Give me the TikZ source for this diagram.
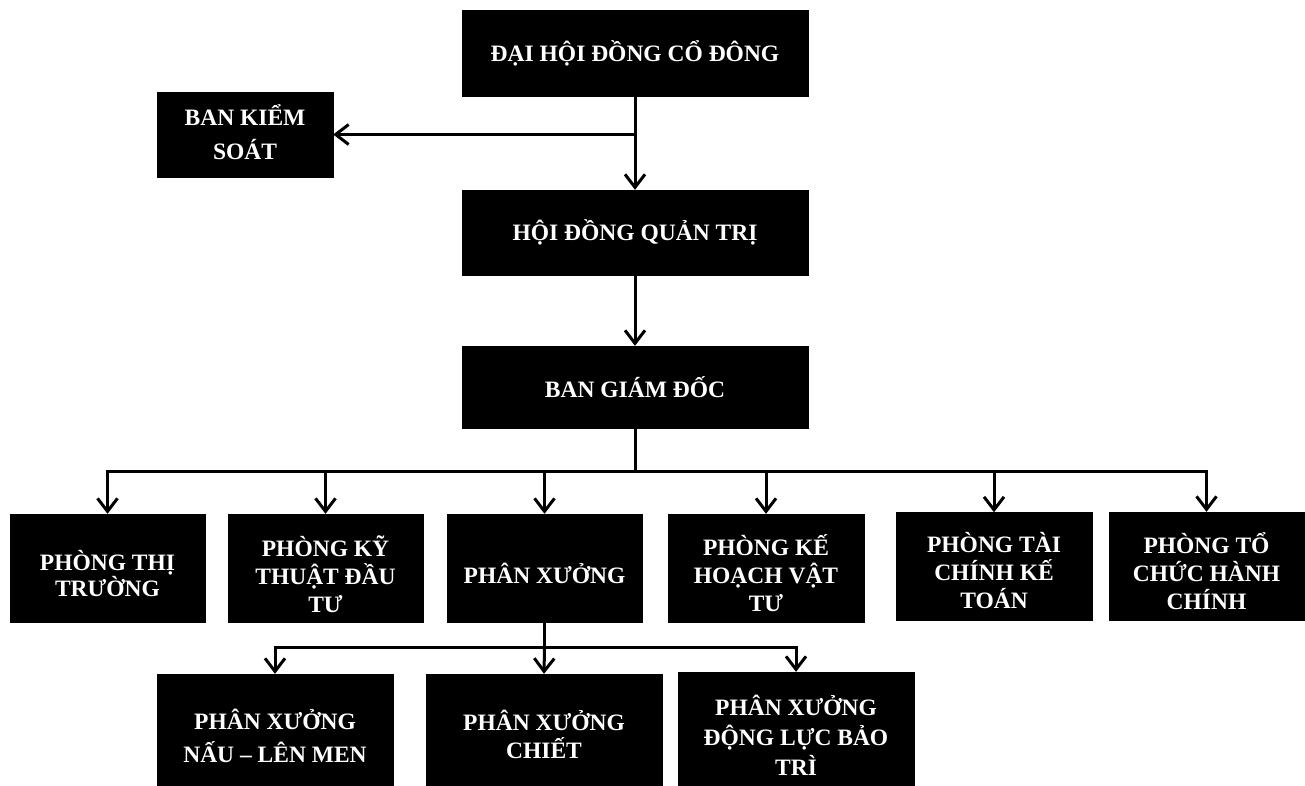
\documentclass[tikz,border=0pt]{standalone}
\usepackage{fontspec}
\setmainfont{Liberation Serif}
\usetikzlibrary{arrows.meta,calc}
\tikzset{
  box/.style={draw=black,fill=black,rectangle,inner sep=0pt},
  txt/.style={text=white,align=center,inner sep=0pt,
    font=\fontsize{23.5}{#1}\selectfont\bfseries},
  txt/.default=28,
  conn/.style={line width=3pt,draw=black},
  arr/.style={conn,-{Straight Barb[length=13pt,width=20pt]}}
}
\begin{document}
\begin{tikzpicture}[x=1pt,y=-1pt]
\useasboundingbox (0,0) rectangle (1305,785);
\begin{scope}
\clip (0,0) rectangle (1305,785);
% top levels
\node[box,minimum width=346pt,minimum height=86pt] (dh) at (635,53) {};
\node[txt] (dht) at (dh.center) {ĐẠI HỘI ĐỒNG CỔ ĐÔNG};
\node[box,minimum width=176pt,minimum height=85pt] (bks) at (245,134.5) {};
\node[txt=34] (bkst) at ([yshift=2pt]bks.center) {BAN KIỂM\\SOÁT};
\node[box,minimum width=346pt,minimum height=85pt] (hd) at (635,232.5) {};
\node[txt] (hdt) at (hd.center) {HỘI ĐỒNG QUẢN TRỊ};
\node[box,minimum width=346pt,minimum height=82pt] (bgd) at (635,387) {};
\node[txt] (bgdt) at (bgd.center) {BAN GIÁM ĐỐC};
% departments
\node[box,minimum width=195pt,minimum height=108pt] (p1) at (107.5,568) {};
\node[txt=26] (p1t) at ([yshift=-6pt]p1.center) {PHÒNG THỊ\\TRƯỜNG};
\node[box,minimum width=195pt,minimum height=108pt] (p2) at (325.5,568) {};
\node[txt] (p2t) at ([yshift=-6pt]p2.center) {PHÒNG KỸ\\THUẬT ĐẦU\\TƯ};
\node[box,minimum width=195pt,minimum height=108pt] (p3) at (544.5,568) {};
\node[txt] (p3t) at ([yshift=-5pt]p3.center) {PHÂN XƯỞNG};
\node[box,minimum width=196pt,minimum height=108pt] (p4) at (766,568) {};
\node[txt] (p4t) at ([yshift=-5pt]p4.center) {PHÒNG KẾ\\HOẠCH VẬT\\TƯ};
\node[box,minimum width=196pt,minimum height=108pt] (p5) at (994,566.5) {};
\node[txt] (p5t) at ([yshift=-4.5pt]p5.center) {PHÒNG TÀI\\CHÍNH KẾ\\TOÁN};
\node[box,minimum width=195pt,minimum height=108pt] (p6) at (1206.5,566) {};
\node[txt] (p6t) at ([yshift=-5pt]p6.center) {PHÒNG TỔ\\CHỨC HÀNH\\CHÍNH};
% workshops
\node[box,minimum width=236pt,minimum height=112pt] (s1) at (275,730) {};
\node[txt=33] (s1t) at ([yshift=-6pt]s1.center) {PHÂN XƯỞNG\\NẤU – LÊN MEN};
\node[box,minimum width=236pt,minimum height=112pt] (s2) at (544,730) {};
\node[txt=28] (s2t) at ([yshift=-4.5pt]s2.center) {PHÂN XƯỞNG\\CHIẾT};
\node[box,minimum width=236pt,minimum height=114pt] (s3) at (796,729) {};
\node[txt=30] (s3t) at ([yshift=-6pt]s3.center) {PHÂN XƯỞNG\\ĐỘNG LỰC BẢO\\TRÌ};
% connectors
\coordinate (j1) at (dh.south |- bks.east);
\draw[arr] (dh.south) -- (hd.north);
\draw[arr] (j1) -- (bks.east);
\draw[arr] (hd.south) -- (bgd.north);
\coordinate (bus) at (635,471);
\draw[arr] (bgd.south) -- (bus) -| (p1.north);
\draw[arr] (bus) -| (p6.north);
\foreach \n in {p2,p3,p4,p5}{\draw[arr] (\n.north |- bus) -- (\n.north);}
\coordinate (sub) at (544.5,647);
\draw[arr] (p3.south) -- (sub) -| (s1.north);
\draw[arr] (sub) -| (s3.north);
\draw[arr] (sub) -- (s2.north);
\end{scope}
\end{tikzpicture}
\end{document}
